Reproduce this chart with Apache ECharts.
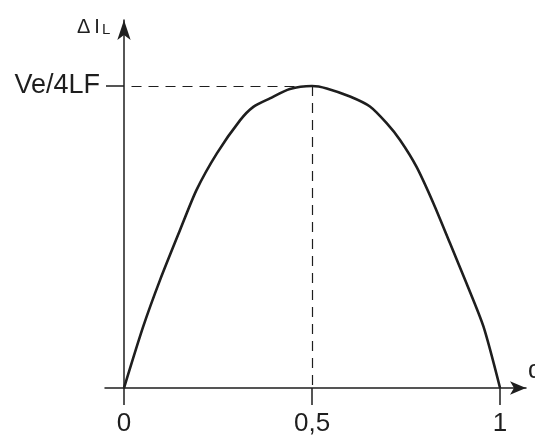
<!DOCTYPE html>
<html>
<head>
<meta charset="utf-8">
<title>ΔIL</title>
<script src="https://cdn.jsdelivr.net/npm/echarts@6/dist/echarts.min.js"></script>
<style>
  html, body { margin: 0; padding: 0; background: #fff; }
  #chart { width: 535px; height: 435px; }
</style>
</head>
<body>
<div id="chart"></div>
<script>
// Duty cycle (horizontal) and ripple current normalised to its peak Ve/4LF
const dutyCycle = [0, 0.051, 0.096, 0.149, 0.193, 0.247, 0.309, 0.344, 0.388, 0.441, 0.5,
                   0.539, 0.601, 0.654, 0.699, 0.734, 0.778, 0.823, 0.867, 0.911, 0.956, 1.0];
const rippleValues = [0, 0.203, 0.358, 0.523, 0.656, 0.777, 0.887, 0.931, 0.959, 0.99, 1.0,
                      0.992, 0.965, 0.932, 0.876, 0.821, 0.732, 0.611, 0.479, 0.346, 0.203, 0];

// Tick positions and their labels
const xTickValues = [0, 0.5, 1];
const xTickLabels = ['0', '0,5', '1'];
const yTickValues = [1];
const yTickLabels = ['Ve/4LF'];
const peakDuty = 0.5;
const peakValue = 1;

const ink = '#1e1e1e';
const fontName = 'Liberation Sans';

const chart = echarts.init(document.getElementById('chart'), null, { renderer: 'canvas' });

chart.setOption({
  animation: false,
  backgroundColor: '#ffffff',
  grid: { left: 105, right: 9, top: 20, bottom: 47, containLabel: false, outerBoundsMode: 'none' },
  // Vertical axis title: ΔI followed by a smaller L
  title: [
    {
      text: 'Δ\u2009I',
      left: 77,
      top: 17,
      padding: 0,
      textStyle: { color: ink, fontFamily: fontName, fontSize: 20, fontWeight: 'normal' }
    },
    {
      text: 'L',
      left: 102,
      top: 22,
      padding: 0,
      textStyle: { color: ink, fontFamily: fontName, fontSize: 15, fontWeight: 'normal' }
    }
  ],
  xAxis: {
    type: 'value',
    min: -0.0505,
    max: 1.069,
    splitLine: { show: false },
    axisLine: {
      onZero: true,
      symbol: ['none', 'arrow'],
      symbolSize: [10, 16],
      lineStyle: { color: ink, width: 1.5 }
    },
    axisTick: {
      customValues: xTickValues,
      length: 17,
      lineStyle: { color: ink, width: 1.5 }
    },
    axisLabel: {
      customValues: xTickValues,
      margin: 23,
      color: ink,
      fontFamily: fontName,
      fontSize: 26,
      formatter: v => {
        const i = xTickValues.findIndex(t => Math.abs(t - v) < 1e-6);
        return i >= 0 ? xTickLabels[i] : '';
      }
    },
    name: 'α',
    nameLocation: 'end',
    nameGap: 2,
    nameTextStyle: {
      color: ink, fontFamily: fontName, fontSize: 25,
      align: 'left', verticalAlign: 'bottom', padding: [0, 0, 4, 0]
    }
  },
  yAxis: {
    type: 'value',
    min: 0,
    max: 1.2185,
    splitLine: { show: false },
    axisLine: {
      onZero: true,
      symbol: ['none', 'arrow'],
      symbolSize: [10, 20],
      lineStyle: { color: ink, width: 1.5 }
    },
    axisTick: {
      customValues: yTickValues,
      length: 18,
      lineStyle: { color: ink, width: 1.5 }
    },
    axisLabel: {
      customValues: yTickValues,
      margin: 5,
      color: ink,
      fontFamily: fontName,
      fontSize: 27,
      padding: [0, 0, 3, 0],
      formatter: v => {
        const i = yTickValues.findIndex(t => Math.abs(t - v) < 1e-6);
        return i >= 0 ? yTickLabels[i] : '';
      }
    }
  },
  series: [
    {
      type: 'line',
      data: dutyCycle.map((d, i) => [d, rippleValues[i]]),
      smooth: 0.25,
      showSymbol: false,
      symbol: 'none',
      lineStyle: { color: ink, width: 2.6 },
      markLine: {
        silent: true,
        symbol: 'none',
        label: { show: false },
        lineStyle: { color: ink, width: 1.2, type: [10, 7] },
        data: [
          [{ coord: [0.02, peakValue] }, { coord: [peakDuty, peakValue] }],
          [{ coord: [peakDuty, peakValue] }, { coord: [peakDuty, 0] }]
        ]
      }
    }
  ]
});
</script>
</body>
</html>
